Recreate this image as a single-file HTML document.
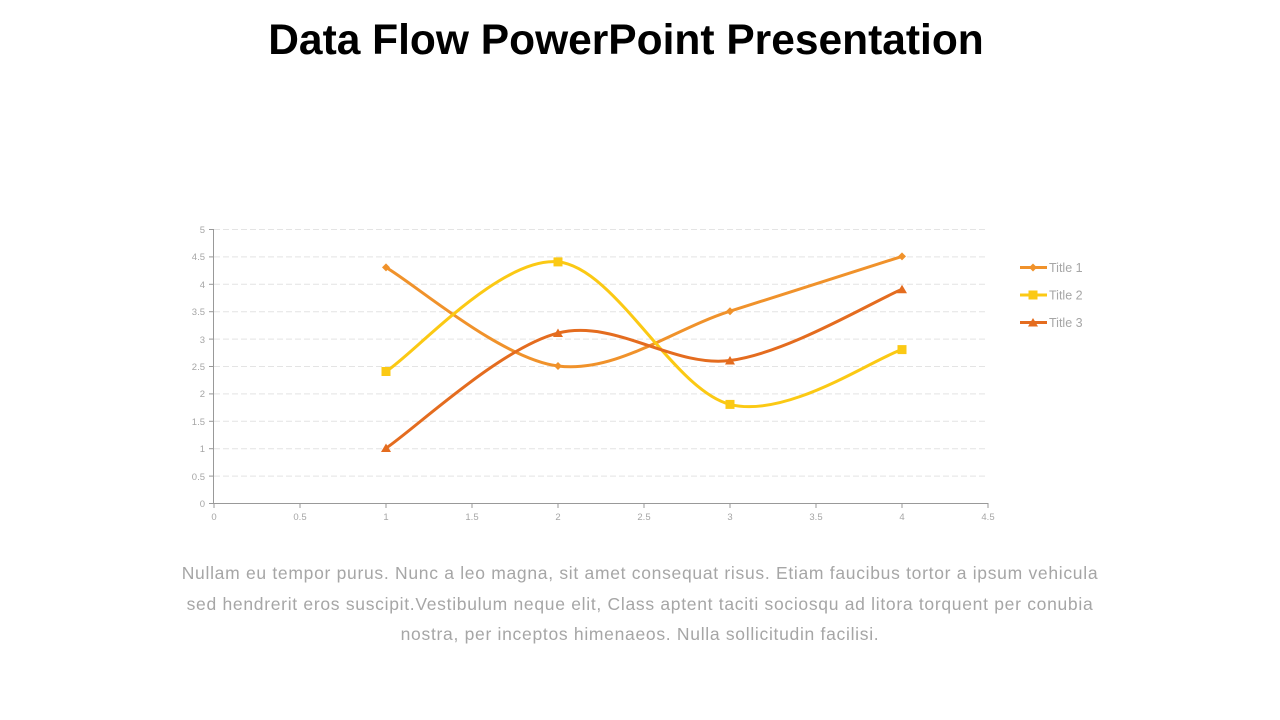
<!DOCTYPE html>
<html><head><meta charset="utf-8"><style>
body{margin:0;width:1280px;height:720px;background:#fff;overflow:hidden;font-family:"Liberation Sans",sans-serif;position:relative}
h1{position:absolute;top:17px;left:0;width:1252px;text-align:center;margin:0;font-size:42.5px;font-weight:bold;color:#000}
p{position:absolute;top:558px;left:170px;width:940px;text-align:center;margin:0;font-size:17.5px;letter-spacing:0.7px;line-height:30.5px;color:#a6a6a6}
</style></head><body>
<h1>Data Flow PowerPoint Presentation</h1>
<svg width="1280" height="720" style="position:absolute;left:0;top:0" font-family="Liberation Sans, sans-serif">
<g stroke="#e4e4e4" stroke-dasharray="6,3" stroke-width="1">
<line x1="214" x2="988" y1="229.5" y2="229.5"/><line x1="214" x2="988" y1="256.9" y2="256.9"/><line x1="214" x2="988" y1="284.3" y2="284.3"/><line x1="214" x2="988" y1="311.7" y2="311.7"/><line x1="214" x2="988" y1="339.1" y2="339.1"/><line x1="214" x2="988" y1="366.5" y2="366.5"/><line x1="214" x2="988" y1="393.9" y2="393.9"/><line x1="214" x2="988" y1="421.3" y2="421.3"/><line x1="214" x2="988" y1="448.7" y2="448.7"/><line x1="214" x2="988" y1="476.1" y2="476.1"/>
</g>
<g stroke="#999" stroke-width="1">
<line x1="213.5" x2="213.5" y1="229" y2="503.5"/><line x1="213" x2="988" y1="503.5" y2="503.5"/>
<line x1="209" x2="213.5" y1="229.5" y2="229.5"/><line x1="209" x2="213.5" y1="256.9" y2="256.9"/><line x1="209" x2="213.5" y1="284.3" y2="284.3"/><line x1="209" x2="213.5" y1="311.7" y2="311.7"/><line x1="209" x2="213.5" y1="339.1" y2="339.1"/><line x1="209" x2="213.5" y1="366.5" y2="366.5"/><line x1="209" x2="213.5" y1="393.9" y2="393.9"/><line x1="209" x2="213.5" y1="421.3" y2="421.3"/><line x1="209" x2="213.5" y1="448.7" y2="448.7"/><line x1="209" x2="213.5" y1="476.1" y2="476.1"/><line x1="209" x2="213.5" y1="503.5" y2="503.5"/>
<line x1="214" x2="214" y1="503" y2="508"/><line x1="300" x2="300" y1="503" y2="508"/><line x1="386" x2="386" y1="503" y2="508"/><line x1="472" x2="472" y1="503" y2="508"/><line x1="558" x2="558" y1="503" y2="508"/><line x1="644" x2="644" y1="503" y2="508"/><line x1="730" x2="730" y1="503" y2="508"/><line x1="816" x2="816" y1="503" y2="508"/><line x1="902" x2="902" y1="503" y2="508"/><line x1="988" x2="988" y1="503" y2="508"/>
</g>
<g fill="#a6a6a6" font-size="9.5" text-anchor="end">
<text x="205" y="233">5</text><text x="205" y="260">4.5</text><text x="205" y="288">4</text><text x="205" y="315">3.5</text><text x="205" y="343">3</text><text x="205" y="370">2.5</text><text x="205" y="397">2</text><text x="205" y="425">1.5</text><text x="205" y="452">1</text><text x="205" y="480">0.5</text><text x="205" y="507">0</text>
</g>
<g fill="#a6a6a6" font-size="9.5" text-anchor="middle">
<text x="214" y="520">0</text><text x="300" y="520">0.5</text><text x="386" y="520">1</text><text x="472" y="520">1.5</text><text x="558" y="520">2</text><text x="644" y="520">2.5</text><text x="730" y="520">3</text><text x="816" y="520">3.5</text><text x="902" y="520">4</text><text x="988" y="520">4.5</text>
</g>
<g fill="none" stroke-width="3" stroke-linecap="round">
<path stroke="#f0922b" d="M386,267.4 C414.7,283.8 500.7,358.7 558,366 C615.3,373.3 672.7,329.5 730,311.2 C787.3,293 873.3,265.5 902,256.4"/>
<path stroke="#fbc914" d="M386,371.5 C414.7,353.2 500.7,256.4 558,261.9 C615.3,267.4 672.7,389.8 730,404.4 C787.3,419 873.3,358.7 902,349.6"/>
<path stroke="#e46c1f" d="M386,448.2 C414.7,429 500.7,347.7 558,333.1 C615.3,318.5 672.7,367.8 730,360.5 C787.3,353.2 873.3,301.2 902,289.3"/>
</g>
<g fill="#f0922b">
<path d="M386,263.4l4,4l-4,4l-4,-4z"/><path d="M558,362l4,4l-4,4l-4,-4z"/><path d="M730,307.2l4,4l-4,4l-4,-4z"/><path d="M902,252.4l4,4l-4,4l-4,-4z"/>
</g>
<g fill="#fbc914">
<rect x="381.5" y="367" width="9" height="9"/><rect x="553.5" y="257.4" width="9" height="9"/><rect x="725.5" y="399.9" width="9" height="9"/><rect x="897.5" y="345.1" width="9" height="9"/>
</g>
<g fill="#e46c1f">
<path d="M386,443.5l5,8.5h-10z"/><path d="M558,328.5l5,8.5h-10z"/><path d="M730,356l5,8.5h-10z"/><path d="M902,284.8l5,8.5h-10z"/>
</g>
<g stroke-width="3">
<line x1="1020" x2="1047" y1="267.5" y2="267.5" stroke="#f0922b"/>
<line x1="1020" x2="1047" y1="295" y2="295" stroke="#fbc914"/>
<line x1="1020" x2="1047" y1="322.5" y2="322.5" stroke="#e46c1f"/>
</g>
<path d="M1033,263.5l4,4l-4,4l-4,-4z" fill="#f0922b"/>
<rect x="1028.5" y="290.5" width="9" height="9" fill="#fbc914"/>
<path d="M1033,318l5,8.5h-10z" fill="#e46c1f"/>
<g fill="#a6a6a6" font-size="12.5">
<text x="1049" y="272">Title 1</text><text x="1049" y="299.5">Title 2</text><text x="1049" y="327">Title 3</text>
</g>
</svg>
<p>Nullam eu tempor purus. Nunc a leo magna, sit amet consequat risus. Etiam faucibus tortor a ipsum vehicula sed hendrerit eros suscipit.Vestibulum neque elit, Class aptent taciti sociosqu ad litora torquent per conubia nostra, per inceptos himenaeos. Nulla sollicitudin facilisi.</p>
</body></html>
